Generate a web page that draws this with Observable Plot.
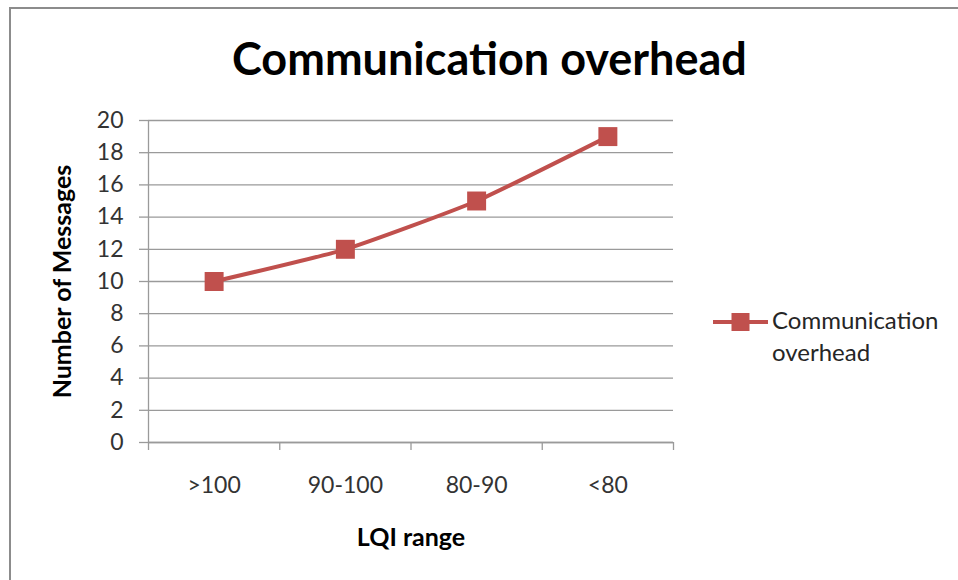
<!DOCTYPE html>
<html>
<head>
<meta charset="utf-8">
<script src="https://cdn.jsdelivr.net/npm/d3@7"></script>
<script src="https://cdn.jsdelivr.net/npm/@observablehq/plot@0.6"></script>
<style>
  html, body { margin: 0; padding: 0; background: #fff; }
  #chart { position: relative; width: 958px; height: 580px; overflow: hidden; font-family: Lato, "Open Sans", sans-serif; }
  #frame { position: absolute; left: 9px; top: 7px; width: 960px; height: 580px; border-top: 2px solid #8c8c8c; border-left: 2px solid #8c8c8c; }
  #title { position: absolute; left: 0; width: 979px; top: 31px; text-align: center; font-weight: 700; font-size: 45px; line-height: 1.2; color: #000; white-space: nowrap; }
  #legend-key { position: absolute; left: 711px; top: 308px; }
  #legend-text { position: absolute; left: 772px; top: 304px; color: #262626; font-size: 24px; line-height: 32px; }
  #chart > svg.plot { position: absolute; left: 0; top: 0; }
</style>
</head>
<body>
<div id="chart">
  <div id="frame"></div>
  <div id="title">Communication overhead</div>
  <div id="legend-key"></div>
  <div id="legend-text"></div>
</div>
<script>
// LQI ranges on the x axis and the number of messages sent for each
const categories = [">100", "90-100", "80-90", "<80"];
const messages = [10, 12, 15, 19];
const yTicks = [0, 2, 4, 6, 8, 10, 12, 14, 16, 18, 20];
const seriesName = "Communication overhead";

const color = "#c0504d";
const gridColor = "#9a9a9a";

const data = categories.map((c, i) => ({i, category: c, value: messages[i]}));
const bounds = d3.range(categories.length + 1).map(k => k - 0.5);

const plot = Plot.plot({
  width: 958,
  height: 580,
  marginLeft: 148,
  marginRight: 285,
  marginTop: 120,
  marginBottom: 138,
  style: {fontFamily: "Lato, 'Open Sans', sans-serif", fontSize: "23px", color: "#333", background: "transparent"},
  x: {domain: [-0.5, categories.length - 0.5]},
  y: {domain: [0, 20]},
  marks: [
    Plot.gridY(yTicks, {stroke: gridColor, strokeOpacity: 1, strokeWidth: 1.3}),
    Plot.axisY(yTicks, {
      tickSize: 9, tickPadding: 16, stroke: gridColor, strokeWidth: 1.3,
      fill: "#333", fontSize: 23,
      label: "Number of Messages", labelAnchor: "center", labelArrow: "none",
      labelOffset: 95
    }),
    Plot.axisX(bounds, {tickSize: 8, tickFormat: () => "", stroke: gridColor, strokeWidth: 1.3, label: null}),
    Plot.axisX(d3.range(categories.length), {
      tickSize: 0, tickPadding: 34, tickFormat: i => categories[i],
      fill: "#333", fontSize: 23,
      label: "LQI range", labelAnchor: "center", labelArrow: "none", labelOffset: 103
    }),
    Plot.ruleX([-0.5], {stroke: gridColor, strokeWidth: 1.3, y1: 0, y2: 20}),
    Plot.ruleY([0], {stroke: gridColor, strokeWidth: 1.3}),
    Plot.line(data, {x: "i", y: "value", stroke: color, strokeWidth: 4, curve: "cardinal", tension: 0.5}),
    Plot.dot(data, {x: "i", y: "value", symbol: "square", r: 10.7, fill: color, stroke: "none"})
  ]
});
plot.classList.add("plot");

// bold axis titles
plot.querySelectorAll("[aria-label='y-axis label'], [aria-label='x-axis label']").forEach(g => {
  g.setAttribute("font-weight", "bold");
  g.setAttribute("font-size", "25");
  g.setAttribute("fill", "#000");
});

document.getElementById("chart").insertBefore(plot, document.getElementById("title"));

// legend: line sample with square marker, then series name
const key = d3.select("#legend-key").append("svg").attr("width", 60).attr("height", 28);
key.append("line").attr("x1", 2).attr("x2", 57).attr("y1", 14).attr("y2", 14)
  .attr("stroke", color).attr("stroke-width", 4);
key.append("rect").attr("x", 20.5).attr("y", 5).attr("width", 18).attr("height", 18).attr("fill", color);
d3.select("#legend-text").html(seriesName.replace(" ", "<br>"));
</script>
</body>
</html>
